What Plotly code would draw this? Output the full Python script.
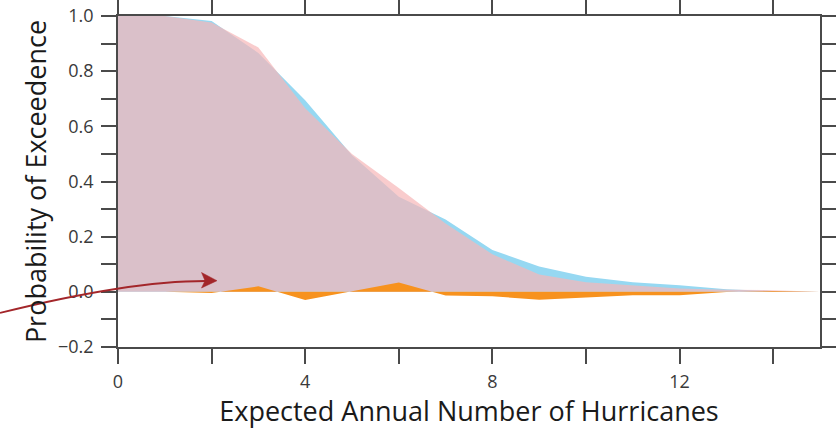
import plotly.graph_objects as go

# ---- data ----
hurricanes = [0, 1, 2, 3, 4, 5, 6, 7, 8, 9, 10, 11, 12, 13, 14, 15]
prob_blue = [1.0, 1.0, 0.982, 0.866, 0.695, 0.495, 0.345, 0.262, 0.152, 0.092, 0.055, 0.035, 0.024, 0.009, 0.003, 0.0]
prob_pink = [1.0, 1.0, 0.976, 0.886, 0.666, 0.500, 0.376, 0.248, 0.136, 0.063, 0.035, 0.023, 0.012, 0.008, 0.006, 0.0]
prob_diff = [0.0, 0.0, -0.004, 0.020, -0.030, 0.002, 0.034, -0.013, -0.016, -0.029, -0.020, -0.012, -0.012, -0.001, 0.003, 0.0]

x_tickvals = [0, 2, 4, 6, 8, 10, 12, 14]
x_ticktext = ["0", "", "4", "", "8", "", "12", ""]
y_tickvals = [-0.2, -0.1, 0.0, 0.1, 0.2, 0.3, 0.4, 0.5, 0.6, 0.7, 0.8, 0.9, 1.0]
y_ticktext = ["\u22120.2", "", "0.0", "", "0.2", "", "0.4", "", "0.6", "", "0.8", "", "1.0"]

W, H = 836, 429
ML, MR, MT, MB = 118, 16, 16, 82

fig = go.Figure()
fig.add_trace(go.Scatter(x=hurricanes, y=prob_blue, mode="lines", fill="tozeroy",
                         line=dict(width=0, color="rgb(150,216,242)"),
                         fillcolor="rgb(150,216,242)", showlegend=False, hoverinfo="skip"))
fig.add_trace(go.Scatter(x=hurricanes, y=prob_pink, mode="lines", fill="tozeroy",
                         line=dict(width=0, color="rgba(246,182,184,0.7)"),
                         fillcolor="rgba(246,182,184,0.7)", showlegend=False, hoverinfo="skip"))
fig.add_trace(go.Scatter(x=hurricanes, y=prob_diff, mode="lines", fill="tozeroy",
                         line=dict(width=0, color="rgb(247,146,30)"),
                         fillcolor="rgb(247,146,30)", showlegend=False, hoverinfo="skip"))

axis_col = "#4a4a4a"
tick_font = dict(family="Open Sans", size=18, color="#3a3a3a")
title_font = dict(family="Open Sans", size=27, color="#1a1a1a")

fig.update_xaxes(range=[0, 15], tickvals=x_tickvals, ticktext=x_ticktext,
                 ticks="outside", ticklen=15, tickwidth=1.6, tickcolor=axis_col,
                 showline=True, linewidth=1.6, linecolor=axis_col, mirror="ticks",
                 showgrid=False, zeroline=False, tickfont=tick_font,
                 ticklabelstandoff=3, automargin=False,
                 title=dict(text="Expected Annual Number of Hurricanes", font=title_font, standoff=9))
fig.update_yaxes(range=[-0.2, 1.0], tickvals=y_tickvals, ticktext=y_ticktext,
                 ticks="outside", ticklen=15, tickwidth=1.6, tickcolor=axis_col,
                 showline=True, linewidth=1.6, linecolor=axis_col, mirror="ticks",
                 showgrid=False, zeroline=False, tickfont=tick_font,
                 ticklabelstandoff=4, automargin=False,
                 title=dict(text="Probability of Exceedence", font=title_font, standoff=4))

# curved annotation arrow (pixel positions converted to paper coords)
pw, ph = W - ML - MR, H - MT - MB
def px(x):
    return (x - ML) / pw
def py(y):
    return (H - MB - y) / ph

arrow_col = "rgb(163,38,42)"
fig.add_shape(type="path", xref="paper", yref="paper",
              path=f"M {px(0)},{py(313)} Q {px(128)},{py(281)} {px(206)},{py(281)}",
              line=dict(color=arrow_col, width=1.8), layer="above")
fig.add_shape(type="path", xref="paper", yref="paper",
              path=(f"M {px(217)},{py(280.7)} L {px(201.5)},{py(272.5)} "
                    f"L {px(205)},{py(280.7)} L {px(201.5)},{py(288)} Z"),
              line=dict(color=arrow_col, width=0.5), fillcolor=arrow_col, layer="above")

fig.update_layout(width=W, height=H, margin=dict(l=ML, r=MR, t=MT, b=MB),
                  paper_bgcolor="white", plot_bgcolor="white", showlegend=False)

fig.write_html("out.html")
